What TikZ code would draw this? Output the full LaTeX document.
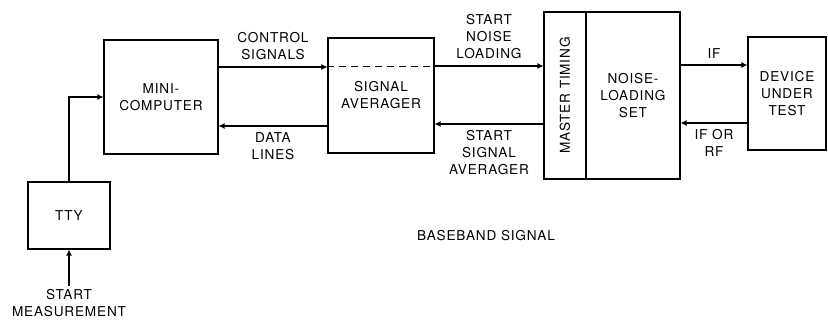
\documentclass[tikz,border=0pt]{standalone}
\usepackage{fontspec}
\setmainfont{TeX Gyre Heros}[LetterSpace=6]
\usetikzlibrary{arrows.meta}
\begin{document}
\begin{tikzpicture}
[
    x=1pt, y=-1pt,
    every node/.style={font=\fontsize{13.6}{17}\selectfont, align=center},
    block/.style={draw, line width=1.1pt, inner sep=0pt},
    link/.style={line width=2.6pt, -{Latex[length=6pt,width=6pt]}},
    tag/.style={inner sep=5.5pt}
]
    \useasboundingbox (0,0) rectangle (828,321);

    % boxes
    \node [block, minimum width=114pt, minimum height=114pt] (mini) at (161,97) {MINI-\\COMPUTER};
    \node [block, minimum width=106pt, minimum height=115pt] (avg) at (381,95.5) {SIGNAL\\AVERAGER};
    \node [block, minimum width=42pt, minimum height=167pt] (master) at (565,95.5) {};
    \node [rotate=90] (mastertext) at (master.center) {MASTER TIMING};
    \node [block, minimum width=94pt, minimum height=167pt] (noise) at (633,95.5) {NOISE-\\LOADING\\SET};
    \node [block, minimum width=78pt, minimum height=113pt] (dut) at (787,93.5) {DEVICE\\UNDER\\TEST};
    \node [block, minimum width=82pt, minimum height=67pt] (tty) at (69,215.5) {TTY};
    \coordinate (start) at (69,286);

    % connectors
    \draw [link] ([yshift=30pt]mini.east) -- ([yshift=28.5pt]avg.west)
        node [tag, midway, above] (ctrl) {CONTROL\\SIGNALS};
    \draw [dash pattern=on 7pt off 5pt, line width=0.9pt] ([yshift=29pt]avg.west) -- ([yshift=29pt]avg.east);
    \draw [link] ([yshift=-30.5pt]avg.west) -- ([yshift=-29pt]mini.east)
        node [tag, midway, below] (data) {DATA\\LINES};
    \draw [link] ([yshift=29.5pt]avg.east) -- ([yshift=29.5pt]master.west)
        node [tag, midway, above] (snl) {START\\NOISE\\LOADING};
    \draw [link] ([yshift=-28.5pt]master.west) -- ([yshift=-28.5pt]avg.east)
        node [tag, midway, below] (ssa) {START\\SIGNAL\\AVERAGER};
    \draw [link] ([yshift=30.5pt]noise.east) -- ([yshift=28.5pt]dut.west)
        node [tag, midway, above] (iflab) {IF};
    \draw [link] ([yshift=-29.5pt]dut.west) -- ([yshift=-27.5pt]noise.east)
        node [tag, midway, below] (rflab) {IF OR\\RF};
    \draw [link] (tty.north) |- (mini.west);
    \draw [link] (start) -- (tty.south);
    \node [below, inner sep=3pt] (startlab) at (start) {START\\MEASUREMENT};

    \node (base) at (486,236) {BASEBAND SIGNAL};
\end{tikzpicture}
\end{document}
